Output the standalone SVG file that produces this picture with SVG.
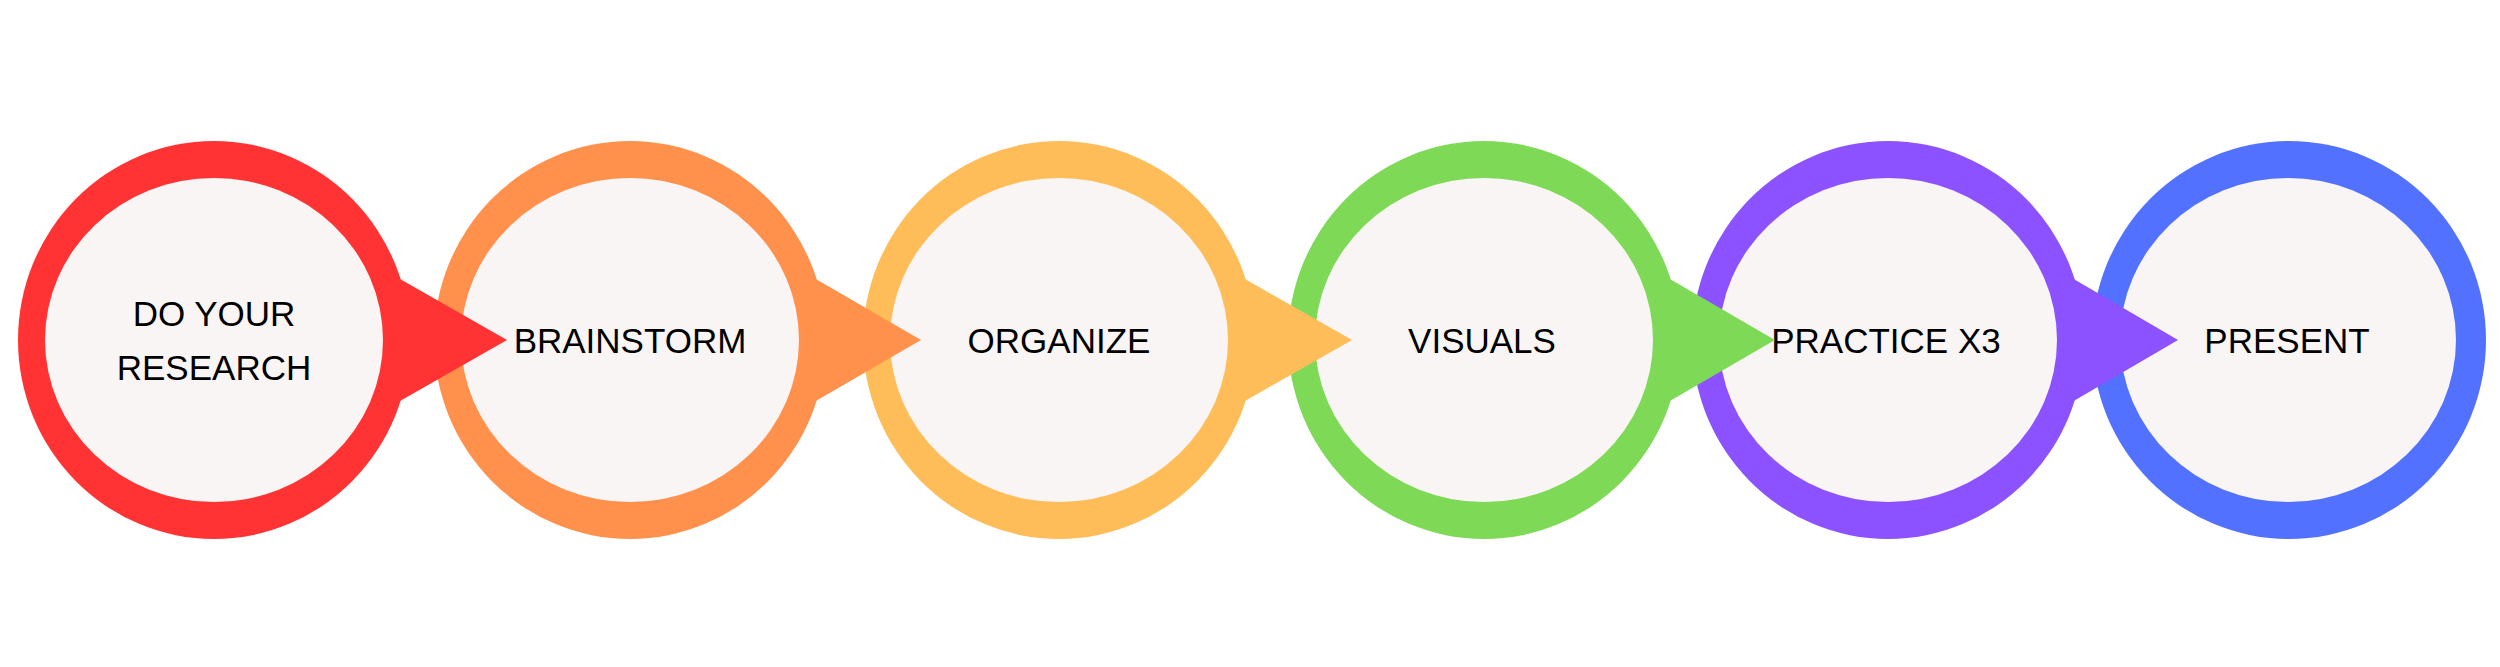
<svg xmlns="http://www.w3.org/2000/svg" width="2500" height="667" viewBox="0 0 2500 667">
<style>
.inner{fill:#FAF5F5}
.lbl{font-family:"Liberation Sans",Arial,sans-serif;font-size:35px;fill:#000;text-anchor:middle}
</style>
<rect width="2500" height="667" fill="#FFFFFF"/>
<g id="node-research">
<ellipse cx="214" cy="340" rx="196" ry="199" fill="#FF3333"/>
<ellipse class="inner" cx="214" cy="340" rx="169" ry="162"/>
<text class="lbl" x="214" y="326">DO YOUR</text>
<text class="lbl" x="214" y="380">RESEARCH</text>
</g>
<g id="node-brainstorm">
<ellipse cx="630" cy="340" rx="196" ry="199" fill="#FF914D"/>
<ellipse class="inner" cx="630" cy="340" rx="169" ry="162"/>
<text class="lbl" x="630" y="353">BRAINSTORM</text>
</g>
<g id="node-organize">
<ellipse cx="1059" cy="340" rx="196" ry="199" fill="#FFBD59"/>
<ellipse class="inner" cx="1059" cy="340" rx="169" ry="162"/>
<text class="lbl" x="1059" y="353">ORGANIZE</text>
</g>
<g id="node-visuals">
<ellipse cx="1484" cy="340" rx="196" ry="199" fill="#7ED957"/>
<ellipse class="inner" cx="1484" cy="340" rx="169" ry="162"/>
<text class="lbl" x="1482" y="353">VISUALS</text>
</g>
<g id="node-practice">
<ellipse cx="1888" cy="340" rx="196" ry="199" fill="#8C52FF"/>
<ellipse class="inner" cx="1888" cy="340" rx="169" ry="162"/>
<text class="lbl" x="1886" y="353">PRACTICE X3</text>
</g>
<g id="node-present">
<ellipse cx="2289" cy="340" rx="197" ry="199" fill="#5271FF"/>
<ellipse class="inner" cx="2288" cy="340" rx="168" ry="162"/>
<text class="lbl" x="2287" y="353">PRESENT</text>
</g>
<g id="connectors">
<polygon points="386,271 507,340 386,409" fill="#FF3333"/>
<polygon points="802,271 921,340 802,409" fill="#FF914D"/>
<polygon points="1231,271 1352,340 1231,409" fill="#FFBD59"/>
<polygon points="1656,271 1775,340 1656,409" fill="#7ED957"/>
<polygon points="2060,271 2178,340 2060,409" fill="#8C52FF"/>
</g>
</svg>
